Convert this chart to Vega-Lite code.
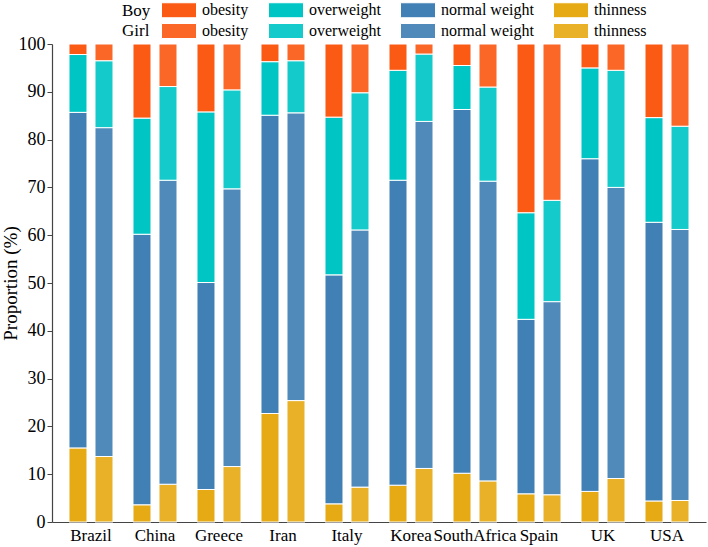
{
  "$schema": "https://vega.github.io/schema/vega-lite/v6.json",
  "width": 654,
  "height": 478,
  "autosize": {"type": "none"},
  "padding": {"left": 52, "top": 44, "right": 2, "bottom": 25},
  "background": "white",
  "config": {
    "font": "Liberation Serif",
    "axis": {"labelFont": "Liberation Serif", "titleFont": "Liberation Serif"},
    "legend": {"labelFont": "Liberation Serif", "titleFont": "Liberation Serif"},
    "view": {"stroke": null}
  },
  "data": {
    "values": [
      {"country":"Brazil","gender":"Boy","category":"thinness","value":15.5},
      {"country":"Brazil","gender":"Boy","category":"normal weight","value":70.2},
      {"country":"Brazil","gender":"Boy","category":"overweight","value":12.1},
      {"country":"Brazil","gender":"Boy","category":"obesity","value":2.2},
      {"country":"Brazil","gender":"Girl","category":"thinness","value":13.7},
      {"country":"Brazil","gender":"Girl","category":"normal weight","value":68.8},
      {"country":"Brazil","gender":"Girl","category":"overweight","value":14.0},
      {"country":"Brazil","gender":"Girl","category":"obesity","value":3.5},
      {"country":"China","gender":"Boy","category":"thinness","value":3.6},
      {"country":"China","gender":"Boy","category":"normal weight","value":56.6},
      {"country":"China","gender":"Boy","category":"overweight","value":24.3},
      {"country":"China","gender":"Boy","category":"obesity","value":15.5},
      {"country":"China","gender":"Girl","category":"thinness","value":7.9},
      {"country":"China","gender":"Girl","category":"normal weight","value":63.6},
      {"country":"China","gender":"Girl","category":"overweight","value":19.6},
      {"country":"China","gender":"Girl","category":"obesity","value":8.9},
      {"country":"Greece","gender":"Boy","category":"thinness","value":6.8},
      {"country":"Greece","gender":"Boy","category":"normal weight","value":43.3},
      {"country":"Greece","gender":"Boy","category":"overweight","value":35.7},
      {"country":"Greece","gender":"Boy","category":"obesity","value":14.2},
      {"country":"Greece","gender":"Girl","category":"thinness","value":11.6},
      {"country":"Greece","gender":"Girl","category":"normal weight","value":58.1},
      {"country":"Greece","gender":"Girl","category":"overweight","value":20.7},
      {"country":"Greece","gender":"Girl","category":"obesity","value":9.6},
      {"country":"Iran","gender":"Boy","category":"thinness","value":22.7},
      {"country":"Iran","gender":"Boy","category":"normal weight","value":62.4},
      {"country":"Iran","gender":"Boy","category":"overweight","value":11.2},
      {"country":"Iran","gender":"Boy","category":"obesity","value":3.7},
      {"country":"Iran","gender":"Girl","category":"thinness","value":25.4},
      {"country":"Iran","gender":"Girl","category":"normal weight","value":60.2},
      {"country":"Iran","gender":"Girl","category":"overweight","value":10.9},
      {"country":"Iran","gender":"Girl","category":"obesity","value":3.5},
      {"country":"Italy","gender":"Boy","category":"thinness","value":3.8},
      {"country":"Italy","gender":"Boy","category":"normal weight","value":47.9},
      {"country":"Italy","gender":"Boy","category":"overweight","value":33.0},
      {"country":"Italy","gender":"Boy","category":"obesity","value":15.3},
      {"country":"Italy","gender":"Girl","category":"thinness","value":7.3},
      {"country":"Italy","gender":"Girl","category":"normal weight","value":53.8},
      {"country":"Italy","gender":"Girl","category":"overweight","value":28.7},
      {"country":"Italy","gender":"Girl","category":"obesity","value":10.2},
      {"country":"Korea","gender":"Boy","category":"thinness","value":7.7},
      {"country":"Korea","gender":"Boy","category":"normal weight","value":63.8},
      {"country":"Korea","gender":"Boy","category":"overweight","value":23.0},
      {"country":"Korea","gender":"Boy","category":"obesity","value":5.5},
      {"country":"Korea","gender":"Girl","category":"thinness","value":11.2},
      {"country":"Korea","gender":"Girl","category":"normal weight","value":72.6},
      {"country":"Korea","gender":"Girl","category":"overweight","value":14.1},
      {"country":"Korea","gender":"Girl","category":"obesity","value":2.1},
      {"country":"SouthAfrica","gender":"Boy","category":"thinness","value":10.2},
      {"country":"SouthAfrica","gender":"Boy","category":"normal weight","value":76.1},
      {"country":"SouthAfrica","gender":"Boy","category":"overweight","value":9.2},
      {"country":"SouthAfrica","gender":"Boy","category":"obesity","value":4.5},
      {"country":"SouthAfrica","gender":"Girl","category":"thinness","value":8.6},
      {"country":"SouthAfrica","gender":"Girl","category":"normal weight","value":62.7},
      {"country":"SouthAfrica","gender":"Girl","category":"overweight","value":19.7},
      {"country":"SouthAfrica","gender":"Girl","category":"obesity","value":9.0},
      {"country":"Spain","gender":"Boy","category":"thinness","value":5.9},
      {"country":"Spain","gender":"Boy","category":"normal weight","value":36.5},
      {"country":"Spain","gender":"Boy","category":"overweight","value":22.3},
      {"country":"Spain","gender":"Boy","category":"obesity","value":35.3},
      {"country":"Spain","gender":"Girl","category":"thinness","value":5.7},
      {"country":"Spain","gender":"Girl","category":"normal weight","value":40.4},
      {"country":"Spain","gender":"Girl","category":"overweight","value":21.2},
      {"country":"Spain","gender":"Girl","category":"obesity","value":32.7},
      {"country":"UK","gender":"Boy","category":"thinness","value":6.4},
      {"country":"UK","gender":"Boy","category":"normal weight","value":69.6},
      {"country":"UK","gender":"Boy","category":"overweight","value":19.0},
      {"country":"UK","gender":"Boy","category":"obesity","value":5.0},
      {"country":"UK","gender":"Girl","category":"thinness","value":9.1},
      {"country":"UK","gender":"Girl","category":"normal weight","value":60.9},
      {"country":"UK","gender":"Girl","category":"overweight","value":24.5},
      {"country":"UK","gender":"Girl","category":"obesity","value":5.5},
      {"country":"USA","gender":"Boy","category":"thinness","value":4.4},
      {"country":"USA","gender":"Boy","category":"normal weight","value":58.3},
      {"country":"USA","gender":"Boy","category":"overweight","value":21.9},
      {"country":"USA","gender":"Boy","category":"obesity","value":15.4},
      {"country":"USA","gender":"Girl","category":"thinness","value":4.5},
      {"country":"USA","gender":"Girl","category":"normal weight","value":56.7},
      {"country":"USA","gender":"Girl","category":"overweight","value":21.6},
      {"country":"USA","gender":"Girl","category":"obesity","value":17.2}
    ]
  },
  "transform": [
    {"calculate": "datum.gender + '|' + datum.category", "as": "series"},
    {"calculate": "indexof(['thinness','normal weight','overweight','obesity'], datum.category)", "as": "stackOrder"}
  ],
  "mark": {"type": "bar", "stroke": "white", "strokeWidth": 1},
  "encoding": {
    "x": {
      "field": "country",
      "type": "nominal",
      "sort": null,
      "scale": {"paddingInner": 0.3125, "paddingOuter": 0.2656},
      "axis": {
        "title": null,
        "labelAngle": 0,
        "labelFont": "Liberation Serif",
        "labelFontSize": 17,
        "labelColor": "black",
        "labelPadding": 5,
        "ticks": false,
        "domainColor": "#444444",
        "domainWidth": 1.2
      }
    },
    "xOffset": {
      "field": "gender",
      "type": "nominal",
      "scale": {"paddingInner": 0.3077, "paddingOuter": 0}
    },
    "y": {
      "field": "value",
      "type": "quantitative",
      "stack": "zero",
      "scale": {"domain": [0, 100], "nice": false},
      "axis": {
        "title": "Proportion (%)",
        "titleFont": "Liberation Serif",
        "titleFontSize": 19,
        "titleFontWeight": "normal",
        "titleColor": "black",
        "titlePadding": -2,
        "values": [0,10,20,30,40,50,60,70,80,90,100],
        "labelFont": "Liberation Serif",
        "labelFontSize": 18,
        "labelColor": "black",
        "labelPadding": 2,
        "tickSize": 5,
        "tickColor": "#444444",
        "domainColor": "#444444",
        "domainWidth": 1.2,
        "grid": false
      }
    },
    "order": {"field": "stackOrder", "type": "quantitative"},
    "color": {
      "field": "series",
      "type": "nominal",
      "scale": {
        "domain": ["Boy|obesity","Girl|obesity","Boy|overweight","Girl|overweight","Boy|normal weight","Girl|normal weight","Boy|thinness","Girl|thinness"],
        "range": ["#FA5A14","#FA6727","#00C5C5","#14CACA","#4180B4","#508ABA","#E6AA14","#E8B127"]
      },
      "legend": {
        "orient": "none",
        "legendX": 70,
        "legendY": -42,
        "columns": 4,
        "title": ["Boy", "Girl"],
        "titleOrient": "left",
        "titleFont": "Liberation Serif",
        "titleFontSize": 17,
        "titleFontWeight": "normal",
        "titleColor": "black",
        "titleLineHeight": 20,
        "titlePadding": 10,
        "labelFont": "Liberation Serif",
        "labelExpr": "split(datum.label, '|')[1]",
        "labelFontSize": 16,
        "labelColor": "black",
        "labelOffset": 25,
        "symbolType": "M-1,-1H3.667V1H-1Z",
        "symbolSize": 225,
        "symbolStrokeWidth": 1,
        "symbolStrokeColor": "white",
        "symbolOpacity": 1,
        "rowPadding": 1,
        "columnPadding": 17,
        "padding": 0
      }
    }
  }
}
